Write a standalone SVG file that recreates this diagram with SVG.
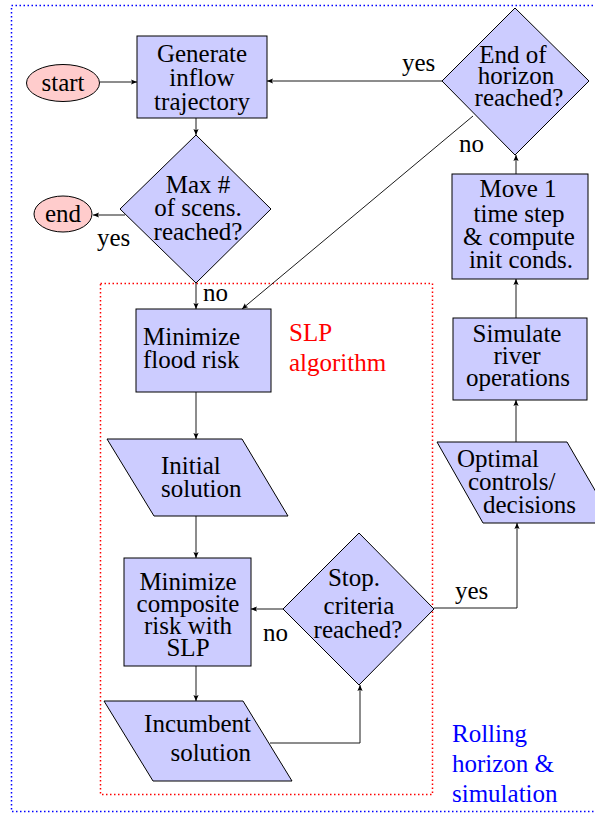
<svg xmlns="http://www.w3.org/2000/svg" width="595" height="814" viewBox="0 0 595 814">
<style>
  text { font-family: "Times New Roman", Times, "Liberation Serif", Tinos, "Noto Serif", serif; font-size: 25px; fill: #000; }
  .c { text-anchor: middle; }
  .box { fill: #ccccff; stroke: #000; stroke-width: 1; }
  .term { fill: #ffcccc; stroke: #000; stroke-width: 1; }
  .edge { fill: none; stroke: #000; stroke-width: 0.9; }
  .arr { marker-end: url(#ah); }
  .red { fill: #ff0000; }
  .blue { fill: #0000ff; }
</style>
<defs>
  <marker id="ah" markerUnits="userSpaceOnUse" markerWidth="8" markerHeight="6" refX="6" refY="3" orient="auto">
    <path d="M0,0.4 L6,3 L0,5.6 L1.2,3 z" fill="#000"/>
  </marker>
</defs>
<rect width="595" height="814" fill="#fff"/>

<!-- frames -->
<g id="frame-rolling">
  <rect x="11.5" y="5.5" width="600" height="806" fill="none" stroke="#0000ff" stroke-width="1.5" stroke-dasharray="1.5 2.5"/>
  <text class="blue" x="452" y="742">Rolling</text>
  <text class="blue" x="452" y="772">horizon &amp;</text>
  <text class="blue" x="452" y="802">simulation</text>
</g>
<g id="frame-slp">
  <rect x="100.5" y="283.5" width="332" height="511" fill="none" stroke="#ff0000" stroke-width="1.5" stroke-dasharray="1.5 2.5"/>
  <text class="red" x="289" y="341">SLP</text>
  <text class="red" x="289" y="371">algorithm</text>
</g>

<!-- connectors -->
<g id="connectors">
  <line class="edge arr" x1="100" y1="82" x2="137" y2="82"/>
  <line class="edge arr" x1="442" y1="81" x2="267" y2="81"/>
  <line class="edge arr" x1="196" y1="118" x2="196" y2="135"/>
  <line class="edge arr" x1="125" y1="215" x2="93" y2="215"/>
  <line class="edge arr" x1="196" y1="283" x2="196" y2="309"/>
  <line class="edge arr" x1="473" y1="116" x2="242" y2="309"/>
  <line class="edge arr" x1="196" y1="392" x2="196" y2="439"/>
  <line class="edge arr" x1="196" y1="516" x2="196" y2="558"/>
  <line class="edge arr" x1="196" y1="666" x2="196" y2="701"/>
  <polyline class="edge arr" points="270,743 360,743 360,685"/>
  <line class="edge arr" x1="283" y1="609" x2="251" y2="609"/>
  <polyline class="edge arr" points="434,608 517,608 517,523"/>
  <line class="edge arr" x1="516" y1="442" x2="516" y2="400"/>
  <line class="edge arr" x1="516" y1="318" x2="516" y2="279"/>
  <line class="edge arr" x1="516" y1="174" x2="516" y2="155"/>
  <text x="402" y="71">yes</text>
  <text x="459" y="152">no</text>
  <text x="97" y="246">yes</text>
  <text x="203" y="301">no</text>
  <text x="263" y="641">no</text>
  <text x="455" y="599">yes</text>
</g>

<!-- nodes -->
<g id="start">
  <ellipse class="term" cx="63" cy="83" rx="36.5" ry="18.5"/>
  <text class="c" x="63" y="91">start</text>
</g>
<g id="generate">
  <rect class="box" x="137" y="36" width="130" height="82"/>
  <text class="c" x="202" y="62">Generate</text>
  <text class="c" x="202" y="86">inflow</text>
  <text class="c" x="202" y="110">trajectory</text>
</g>
<g id="maxscens">
  <polygon class="box" points="196,135 271,209 196,283 120,209"/>
  <text class="c" x="198" y="193">Max #</text>
  <text class="c" x="198" y="216">of scens.</text>
  <text class="c" x="198" y="240">reached?</text>
</g>
<g id="end">
  <ellipse class="term" cx="63" cy="214" rx="29" ry="18"/>
  <text class="c" x="63" y="222">end</text>
</g>
<g id="minflood">
  <rect class="box" x="136" y="309" width="135" height="83"/>
  <text x="143" y="345">Minimize</text>
  <text x="143" y="368">flood risk</text>
</g>
<g id="initial">
  <polygon class="box" points="107,439 242,439 288,516 154,516"/>
  <text x="161" y="474">Initial</text>
  <text x="161" y="497">solution</text>
</g>
<g id="mincomposite">
  <rect class="box" x="124" y="558" width="127" height="108"/>
  <text class="c" x="188" y="590">Minimize</text>
  <text class="c" x="188" y="612">composite</text>
  <text class="c" x="188" y="634">risk with</text>
  <text class="c" x="188" y="656">SLP</text>
</g>
<g id="incumbent">
  <polygon class="box" points="104,701 243,701 292,781 153,781"/>
  <text x="251" y="732" text-anchor="end">Incumbent</text>
  <text x="251" y="761" text-anchor="end">solution</text>
</g>
<g id="stop">
  <polygon class="box" points="359,533 434,609 359,685 283,609"/>
  <text class="c" x="354" y="586">Stop.</text>
  <text class="c" x="359" y="614">criteria</text>
  <text class="c" x="358" y="638">reached?</text>
</g>
<g id="optimal">
  <polygon class="box" points="437,442 567,442 614,523 483,523"/>
  <text x="457" y="467">Optimal</text>
  <text x="468" y="490">controls/</text>
  <text x="483" y="513">decisions</text>
</g>
<g id="simulate">
  <rect class="box" x="453" y="318" width="134" height="82"/>
  <text class="c" x="517" y="342">Simulate</text>
  <text class="c" x="517" y="364">river</text>
  <text class="c" x="518" y="386">operations</text>
</g>
<g id="move">
  <rect class="box" x="452" y="174" width="136" height="105"/>
  <text class="c" x="518" y="197">Move 1</text>
  <text class="c" x="519" y="222">time step</text>
  <text class="c" x="519" y="245">&amp; compute</text>
  <text class="c" x="521" y="268">init conds.</text>
</g>
<g id="endhorizon">
  <polygon class="box" points="515,8 589,81 515,155 442,81"/>
  <text class="c" x="513" y="63">End of</text>
  <text class="c" x="516" y="84">horizon</text>
  <text class="c" x="519" y="106">reached?</text>
</g>
</svg>
